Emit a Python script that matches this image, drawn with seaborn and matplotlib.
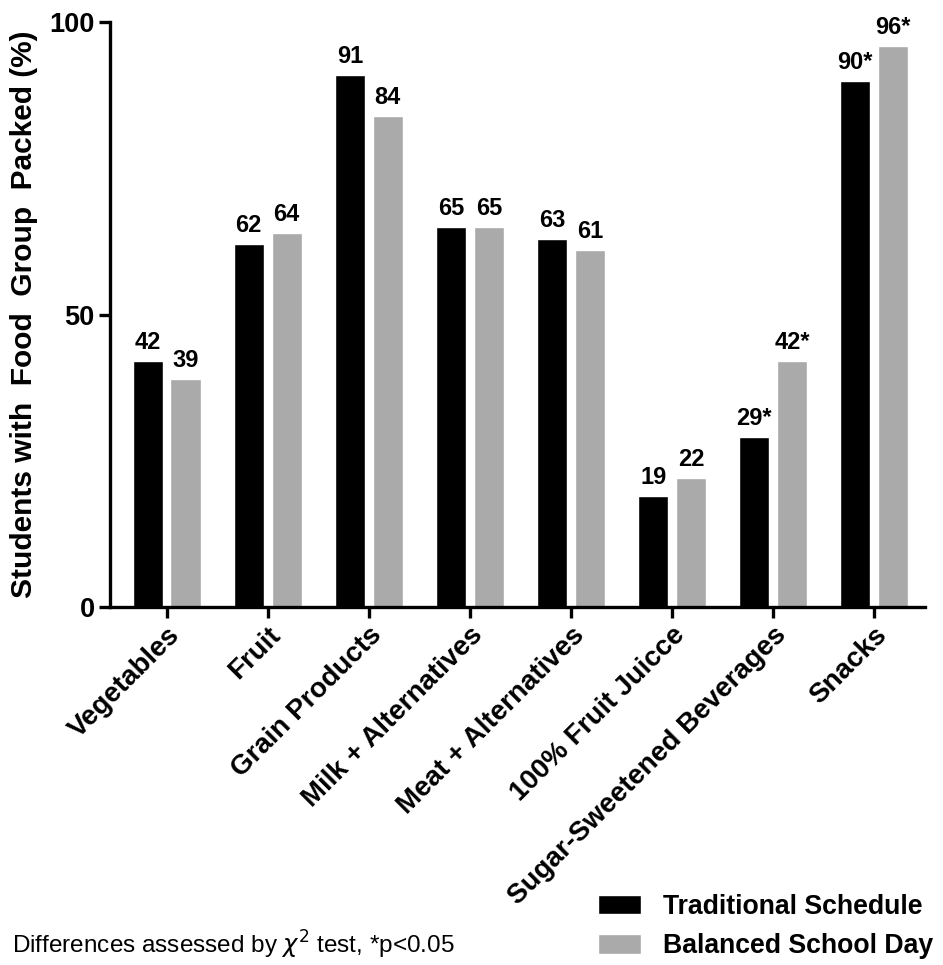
import pandas as pd
import seaborn as sns
import matplotlib.pyplot as plt

# food groups and percentages
groups = ['Vegetables', 'Fruit', 'Grain Products', 'Milk + Alternatives',
          'Meat + Alternatives', '100% Fruit Juicce', 'Sugar-Sweetened Beverages', 'Snacks']
traditional = [42, 62, 91, 65, 63, 19, 29, 90]
balanced = [39, 64, 84, 65, 61, 22, 42, 96]
trad_labels = ['42', '62', '91', '65', '63', '19', '29*', '90*']
bal_labels = ['39', '64', '84', '65', '61', '22', '42*', '96*']
schedules = ['Traditional Schedule', 'Balanced School Day']

df = pd.DataFrame({
    'group': groups * 2,
    'pct': traditional + balanced,
    'schedule': [schedules[0]] * len(groups) + [schedules[1]] * len(groups),
})

sns.set_style('ticks')
plt.rcParams['font.family'] = ['Liberation Sans', 'DejaVu Sans']
for k in ['text.color', 'axes.labelcolor', 'xtick.color', 'ytick.color', 'axes.edgecolor']:
    plt.rcParams[k] = 'black'

fig = plt.figure(figsize=(9.43, 9.65), dpi=100)
ax = fig.add_axes([0.1167, 0.371, 0.864, 0.606])

palette = {schedules[0]: '#000000', schedules[1]: '#AAAAAA'}
sns.barplot(data=df, x='group', y='pct', hue='schedule', palette=palette,
            width=0.75, gap=0.2, saturation=1, ax=ax, legend=True)

for cont, labs in zip(ax.containers, [trad_labels, bal_labels]):
    ax.bar_label(cont, labels=labs, padding=5, fontsize=17, fontweight='bold')

ax.set_ylim(0, 100)
ax.set_xlim(-0.56, 7.5)
ax.set_yticks([0, 50, 100])
ax.set_xlabel('')
ax.set_ylabel('Students with  Food  Group  Packed (%)', fontsize=21.5,
              fontweight='bold', labelpad=8)
ax.tick_params(axis='both', width=2.4, length=8, labelsize=19.5, pad=3)
for lab in ax.get_yticklabels():
    lab.set_fontweight('bold')
plt.setp(ax.get_xticklabels(), rotation=45, ha='right', rotation_mode='anchor',
         fontweight='bold', fontsize=20)

sns.despine(ax=ax)
for s in ['left', 'bottom']:
    ax.spines[s].set_linewidth(2.4)

handles, labels = ax.get_legend_handles_labels()
ax.get_legend().remove()
fig.legend(handles, labels, loc='center left', bbox_to_anchor=(0.634, 0.040),
           frameon=False, prop={'size': 19.2, 'weight': 'bold'}, handlelength=1.6,
           handleheight=0.75, handletextpad=0.85, labelspacing=0.5,
           borderpad=0, borderaxespad=0)

fig.text(0.013, 0.012, r'Differences assessed by $\chi^2$ test, *p<0.05', fontsize=17.5)

fig.savefig('out.png', dpi=100)
